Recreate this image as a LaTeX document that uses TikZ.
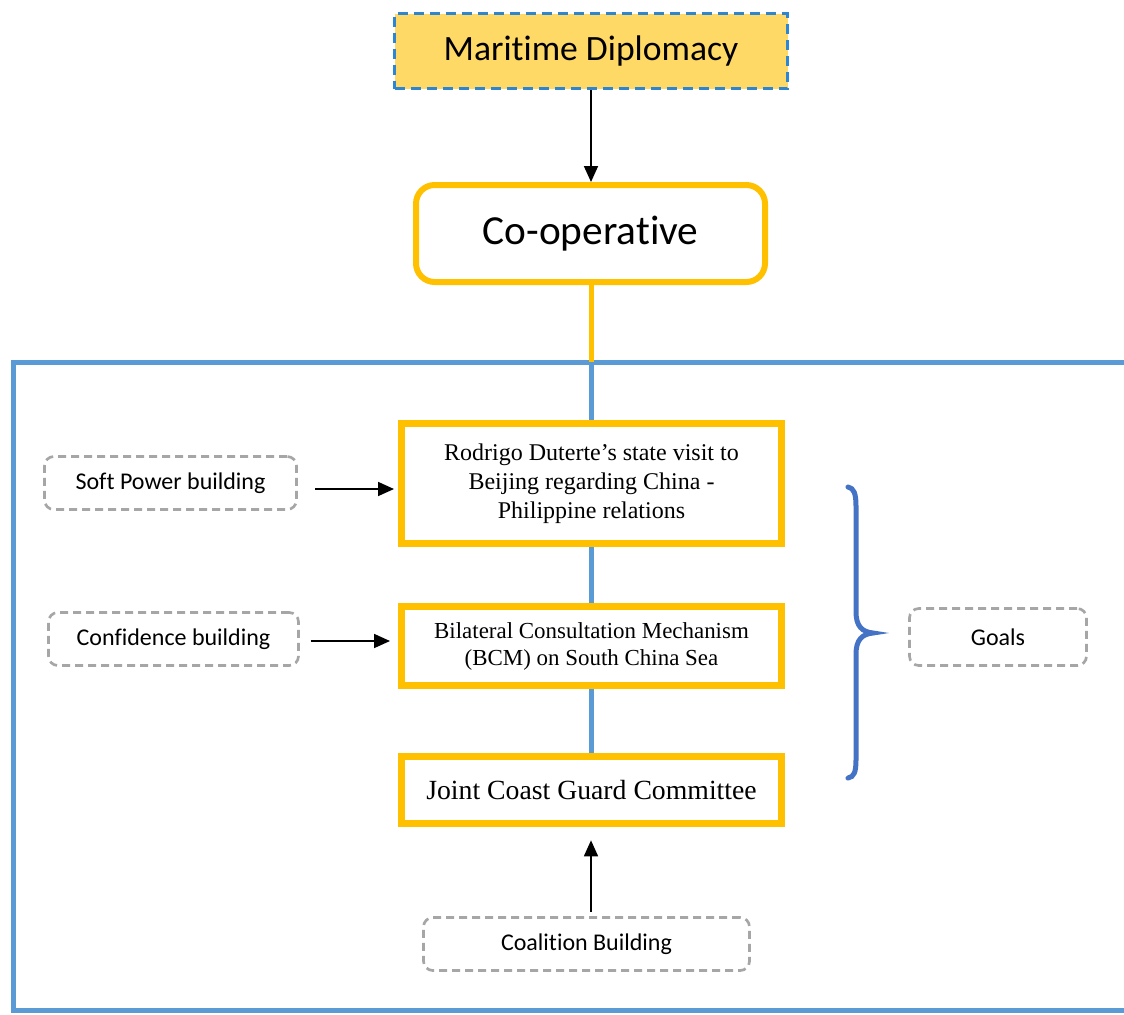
\documentclass[tikz,border=0pt]{standalone}
\usepackage{fontspec}
\setmainfont{Liberation Serif}
\newfontfamily\calfont[Ligatures=NoCommon]{Carlito}
\usetikzlibrary{arrows.meta}
\definecolor{gold}{HTML}{FFC000}
\definecolor{goldfill}{HTML}{FFD966}
\definecolor{frameblue}{HTML}{5B9BD5}
\definecolor{dashblue}{HTML}{2E86D0}
\definecolor{braceblue}{HTML}{4472C4}
\definecolor{dashgray}{HTML}{A6A6A6}
\begin{document}
\begin{tikzpicture}[x=0.75pt,y=-0.75pt,
  goldbox/.style={draw=gold,line width=5.25pt,fill=white,minimum width=285pt,inner sep=0pt,align=center},
  lbl/.style={draw=dashgray,line width=2pt,dash pattern=on 6pt off 3.75pt,rounded corners=7pt,fill=white,
              font=\calfont\fontsize{18}{22}\selectfont,inner sep=0pt,minimum height=39.75pt},
  arr/.style={draw=black,line width=1.3pt,-{Triangle[length=12pt,width=10.5pt]}}
]
\useasboundingbox (0,0) rectangle (1124,1014);

% frame
\draw[frameblue,line width=3.75pt] (1130,362) -- (13,362) -- (13,1010) -- (1130,1010);

% top nodes
\node[draw=dashblue,fill=goldfill,line width=2.25pt,dash pattern=on 7.5pt off 4.5pt,
      minimum width=294.75pt,minimum height=56.25pt,inner sep=0pt,
      font=\calfont\fontsize{26.7}{30}\selectfont] (md) at (591,51) {Maritime Diplomacy};
\node[draw=gold,line width=4.5pt,rounded corners=14pt,fill=white,
      minimum width=261.75pt,minimum height=72.75pt,inner sep=0pt,
      font=\calfont\fontsize{31}{36}\selectfont] (co) at (590.5,233.5) {Co-operative};
\coordinate (ftop) at (591,362);

% main chain nodes
\node[goldbox,minimum height=90pt,font=\fontsize{18}{21.75}\selectfont] (b1) at (591.5,483.5)
  {Rodrigo Duterte’s state visit to\\Beijing regarding China -\\Philippine relations};
\node[goldbox,minimum height=59.25pt,font=\fontsize{17.2}{20.25}\selectfont] (b2) at (591.5,646)
  {Bilateral Consultation Mechanism\\(BCM) on South China Sea};
\node[goldbox,minimum height=50.25pt,font=\fontsize{20.8}{24}\selectfont] (b3) at (591.5,790)
  {Joint Coast Guard Committee};

% connectors
\draw[frameblue,line width=3.75pt] (ftop) -- (ftop |- b1.north);
\draw[frameblue,line width=3.75pt] (b1.south -| ftop) -- (b2.north -| ftop);
\draw[frameblue,line width=3.75pt] (b2.south -| ftop) -- (b3.north -| ftop);
\draw[gold,line width=3.75pt] (co.south -| ftop) -- (ftop);
\draw[arr] (md.south -| ftop) -- (co.north -| ftop);

% side labels
\node[lbl,minimum width=189pt] (sp) at (170.5,483) {Soft Power building};
\node[lbl,minimum width=187.5pt] (cf) at (173.5,639) {Confidence building};
\node[lbl,minimum width=132.75pt,minimum height=42.75pt] (gl) at (998,637) {Goals};
\node[lbl,minimum width=244.5pt] (cb) at (586.5,944) {Coalition Building};

\draw[arr] ([xshift=13pt,yshift=-4.5pt]sp.east) -- ([yshift=-4.5pt,xshift=-3pt]sp.east -| b1.west);
\draw[arr] ([xshift=8pt,yshift=-1.5pt]cf.east) -- ([yshift=-1.5pt,xshift=-6pt]cf.east -| b2.west);
\draw[arr] ([yshift=3pt]cb.north -| ftop) -- ([yshift=-10pt]b3.south -| ftop);

% brace
\coordinate (brt) at (848,487);
\coordinate (brm) at (873,633);
\coordinate (brb) at (848,778);
\draw[braceblue,line width=3.75pt,line cap=round]
  (brt) .. controls (854,488) and (856,494) .. (856,506) -- (856,612)
  .. controls (856,626) and (862,632) .. (brm)
  .. controls (862,634) and (856,640) .. (856,654) -- (856,760)
  .. controls (856,772) and (854,777) .. (brb);
\end{tikzpicture}
\end{document}
